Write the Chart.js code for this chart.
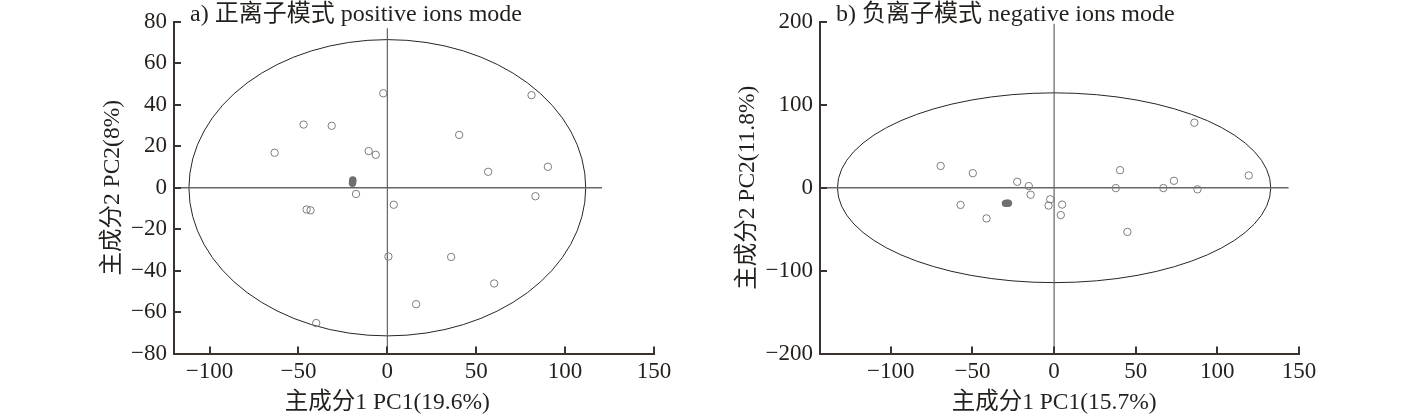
<!DOCTYPE html>
<html>
<head>
<meta charset="utf-8">
<script src="https://cdn.jsdelivr.net/npm/chart.js@4"></script>
<style>
body { margin: 0; background: #fff; }
canvas { position: absolute; top: 0; }
</style>
</head>
<body>
<canvas id="posChart" width="708" height="415" style="left:0"></canvas>
<canvas id="negChart" width="709" height="415" style="left:708px"></canvas>
<script>
// a) positive ions mode
var posX = [-2.3, 81.1, -47.1, -31.3, 40.4, -63.4, -10.5, -6.5, 56.7, 90.3, -17.6, 83.3, -45.4, -43.2, 3.6, 0.6, 35.9, 60.1, 16.2, -40.0]
var posY = [45.6, 44.7, 30.5, 29.9, 25.5, 16.9, 17.7, 15.9, 7.7, 10.1, -3.0, -4.1, -10.5, -10.9, -8.2, -33.2, -33.4, -46.2, -56.2, -65.3]
var posQcX = [-19.6, -19.5, -19.4]
var posQcY = [2.2, 3.0, 3.8]
var posXTicks = [-100, -50, 0, 50, 100, 150]
var posYTicks = [-80, -60, -40, -20, 0, 20, 40, 60, 80]
var posEllipse = [0, 0, 111.6, 71.5]   // centre x, centre y, half width, half height
var posZeroX = [-120, 120.7]           // extent of the y=0 line
var posZeroY = [-80, 77]               // extent of the x=0 line

// b) negative ions mode
var negX = [85.9, -69.5, -49.8, 40.4, 119.2, -22.6, -15.5, -14.4, 37.8, 66.9, 73.4, 87.8, -2.4, -3.4, 4.9, 4.1, -57.3, -41.4, 44.9]
var negY = [78.5, 26.3, 17.6, 21.2, 14.8, 7.2, 2.0, -8.4, -0.4, -0.4, 8.4, -1.9, -13.9, -21.5, -20.3, -33.0, -20.7, -37.0, -53.3]
var negQcX = [-29.8, -28.9, -28.0]
var negQcY = [-18.8, -18.6, -18.6]
var negXTicks = [-100, -50, 0, 50, 100, 150]
var negYTicks = [-200, -100, 0, 100, 200]
var negEllipse = [0, 0, 132.7, 114.5]
var negZeroX = [-143.4, 143.6]
var negZeroY = [-200, 198]

var fontFamily = "'Liberation Serif', 'Noto Sans CJK SC', serif"
var textColor = '#231f1c'
var axisColor = '#3a3330'

Chart.defaults.font.family = fontFamily
Chart.defaults.font.size = 23
Chart.defaults.color = textColor

function pts(xs, ys) {
  return xs.map(function (x, i) { return { x: x, y: ys[i] } })
}

function minus(v) {
  return String(v).replace('-', '\u2212')
}

var deco = {
  id: 'deco',
  beforeDatasetsDraw: function (chart, args, o) {
    var ctx = chart.ctx, xs = chart.scales.x, ys = chart.scales.y, e = o.ellipse
    var cx = xs.getPixelForValue(e[0]), cy = ys.getPixelForValue(e[1])
    var rx = Math.abs(xs.getPixelForValue(e[0] + e[2]) - cx)
    var ry = Math.abs(ys.getPixelForValue(e[1] + e[3]) - cy)
    ctx.save()
    ctx.beginPath()
    ctx.ellipse(cx, cy, rx, ry, 0, 0, Math.PI * 2)
    ctx.strokeStyle = '#262626'
    ctx.lineWidth = 1
    ctx.stroke()
    ctx.restore()
  },
  afterDraw: function (chart, args, o) {
    var ctx = chart.ctx, xs = chart.scales.x, ys = chart.scales.y, a = chart.chartArea
    ctx.save()
    // inward tick marks
    ctx.strokeStyle = axisColor
    ctx.lineWidth = 2
    ctx.beginPath()
    xs.ticks.forEach(function (t, i) {
      var px = Math.round(xs.getPixelForTick(i))
      ctx.moveTo(px, a.bottom)
      ctx.lineTo(px, a.bottom - 7)
    })
    ys.ticks.forEach(function (t, i) {
      var py = Math.round(ys.getPixelForTick(i))
      ctx.moveTo(a.left, py)
      ctx.lineTo(a.left + 7, py)
    })
    ctx.stroke()
    // titles
    ctx.fillStyle = textColor
    ctx.font = '24px ' + fontFamily
    ctx.textAlign = 'left'
    ctx.textBaseline = 'alphabetic'
    ctx.fillText(o.title, a.left + 16, 21)
    ctx.font = '23.5px ' + fontFamily
    ctx.textAlign = 'center'
    ctx.textBaseline = 'middle'
    ctx.fillText(o.xTitle, xs.getPixelForValue(0), 403)
    ctx.translate(o.yTitleX, ys.getPixelForValue(0))
    ctx.rotate(-Math.PI / 2)
    ctx.fillText(o.yTitle, 0, 0)
    ctx.restore()
  }
}

function makeChart(id, c) {
  return new Chart(document.getElementById(id), {
    type: 'scatter',
    data: {
      datasets: [
        {
          data: pts(c.x, c.y),
          pointRadius: 3.7,
          pointBorderWidth: 1,
          pointBorderColor: '#7d7d7d',
          pointBackgroundColor: 'rgba(255,255,255,0)',
          order: 1
        },
        {
          data: pts(c.qcX, c.qcY),
          pointRadius: 3.7,
          pointBorderWidth: 0,
          pointBackgroundColor: '#6f6f6f',
          order: 0
        },
        {
          data: pts(c.zeroX, [0, 0]),
          showLine: true,
          pointRadius: 0,
          borderColor: '#666',
          borderWidth: 1.3,
          order: 2
        },
        {
          data: pts([0, 0], c.zeroY),
          showLine: true,
          pointRadius: 0,
          borderColor: '#555',
          borderWidth: 1.1,
          order: 2
        }
      ]
    },
    options: {
      responsive: false,
      animation: false,
      layout: { padding: { top: 22, right: c.padRight, left: 0, bottom: 0 } },
      plugins: {
        legend: { display: false },
        tooltip: { enabled: false },
        deco: { ellipse: c.ellipse, title: c.title, xTitle: c.xTitle, yTitle: c.yTitle, yTitleX: c.yTitleX }
      },
      scales: {
        x: {
          type: 'linear',
          min: c.xMin,
          max: c.xMax,
          grid: { drawOnChartArea: false, drawTicks: false },
          border: { display: true, color: axisColor, width: 2 },
          ticks: { padding: 5, maxRotation: 0, callback: minus },
          afterBuildTicks: function (s) { s.ticks = c.xTicks.map(function (v) { return { value: v } }) },
          afterFit: function (s) { s.height = 61.5 }
        },
        y: {
          type: 'linear',
          min: c.yMin,
          max: c.yMax,
          grid: { drawOnChartArea: false, drawTicks: false },
          border: { display: true, color: axisColor, width: 2 },
          ticks: { padding: 7, callback: minus },
          afterBuildTicks: function (s) { s.ticks = c.yTicks.map(function (v) { return { value: v } }) },
          afterFit: function (s) { s.width = c.yWidth }
        }
      }
    },
    plugins: [deco]
  })
}

makeChart('posChart', {
  x: posX, y: posY, qcX: posQcX, qcY: posQcY,
  xTicks: posXTicks, yTicks: posYTicks,
  xMin: -120, xMax: 150, yMin: -80, yMax: 80,
  ellipse: posEllipse, zeroX: posZeroX, zeroY: posZeroY,
  padRight: 54, yWidth: 174, yTitleX: 113,
  title: 'a) 正离子模式 positive ions mode',
  xTitle: '主成分1 PC1(19.6%)',
  yTitle: '主成分2 PC2(8%)'
})

makeChart('negChart', {
  x: negX, y: negY, qcX: negQcX, qcY: negQcY,
  xTicks: negXTicks, yTicks: negYTicks,
  xMin: -143.4, xMax: 150, yMin: -200, yMax: 200,
  ellipse: negEllipse, zeroX: negZeroX, zeroY: negZeroY,
  padRight: 118, yWidth: 112, yTitleX: 40,
  title: 'b) 负离子模式 negative ions mode',
  xTitle: '主成分1 PC1(15.7%)',
  yTitle: '主成分2 PC2(11.8%)'
})
</script>
</body>
</html>
